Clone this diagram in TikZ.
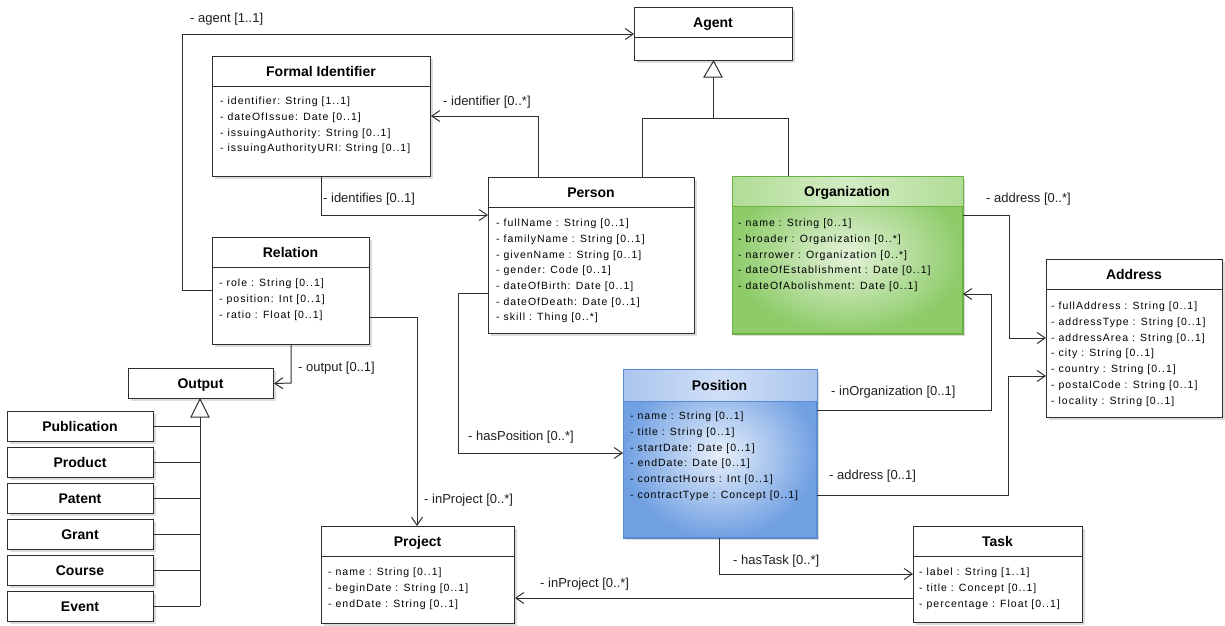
\documentclass[tikz,border=0pt]{standalone}
\usepackage{fontspec}
\setmainfont{Liberation Sans}
\newfontfamily\attrfont[LetterSpace=9.5]{Liberation Sans}
\usetikzlibrary{arrows.meta,shadows,calc}
\definecolor{ln}{HTML}{2E2E2E}
\definecolor{orgIn}{HTML}{E4F3DA}
\definecolor{orgOut}{HTML}{8ECC6A}
\definecolor{orgH}{HTML}{B0DC95}
\definecolor{orgHm}{HTML}{D3ECC4}
\definecolor{orgB}{HTML}{6BAF45}
\definecolor{posIn}{HTML}{E8F0FB}
\definecolor{posOut}{HTML}{71A0E2}
\definecolor{posH}{HTML}{AAC5EE}
\definecolor{posHm}{HTML}{D0DFF6}
\definecolor{posB}{HTML}{5A8AD2}
\tikzset{
  cls/.style={draw=ln, line width=1pt, fill=white, inner sep=0pt, anchor=north west,
    drop shadow={shadow xshift=2.5pt, shadow yshift=-2.5pt, opacity=0.28}},
  ttl/.style={font=\fontsize{14}{16}\selectfont\bfseries, inner sep=0pt, anchor=base, text=black},
  attr/.style={font=\attrfont\fontsize{10.5}{15.7}\selectfont, align=left, anchor=north west, inner sep=0pt, text=black},
  lbl/.style={font=\fontsize{13}{15}\selectfont, anchor=base west, inner sep=0pt, text=black!88},
  assoc/.style={draw=ln, line width=1pt, -{Straight Barb[length=8pt,width=11pt,line width=1pt]}},
  gen/.style={draw=ln, line width=1pt},
  divl/.style={draw=ln, line width=1pt},
}
\begin{document}
\begin{tikzpicture}[x=1pt,y=-1pt]
\useasboundingbox (0,0) rectangle (1225,625);

% ---------- Agent
\node[cls, minimum width=158pt, minimum height=53pt] (agent) at (634,7) {};
\draw[divl] (agent.west |- 0,37) -- (agent.east |- 0,37);
\node[ttl] (agentT) at (713,27) {Agent};

% ---------- Formal Identifier
\node[cls, minimum width=218pt, minimum height=120pt] (fid) at (212,56) {};
\draw[divl] (fid.west |- 0,86) -- (fid.east |- 0,86);
\node[ttl] (fidT) at (321,76) {Formal Identifier};
\node[attr] (fidA) at (220,97) {- identifier: String [1..1]\\- dateOfIssue: Date [0..1]\\- issuingAuthority: String [0..1]\\- issuingAuthorityURI: String [0..1]};

% ---------- Person
\node[cls, minimum width=206pt, minimum height=156pt] (person) at (488,177) {};
\draw[divl] (person.west |- 0,207) -- (person.east |- 0,207);
\node[ttl] (personT) at (591,197) {Person};
\node[attr] (personA) at (496,218.8) {- fullName : String [0..1]\\- familyName : String [0..1]\\- givenName : String [0..1]\\- gender: Code [0..1]\\- dateOfBirth: Date [0..1]\\- dateOfDeath: Date [0..1]\\- skill : Thing [0..*]};

% ---------- Organization
\node[cls, draw=orgB, inner color=orgIn, outer color=orgOut, minimum width=230pt, minimum height=157pt] (org) at (732,176) {};
\shade[left color=orgH, right color=orgH, middle color=orgHm] (org.north west) rectangle (org.east |- 0,206);
\draw[draw=orgB, line width=1pt] (org.north west) rectangle (org.south east);
\draw[draw=orgB, line width=1pt] (org.west |- 0,206) -- (org.east |- 0,206);
\node[ttl] (orgT) at (847,196) {Organization};
\node[attr] (orgA) at (738,218.8) {- name : String [0..1]\\- broader : Organization [0..*]\\- narrower : Organization [0..*]\\- dateOfEstablishment : Date [0..1]\\- dateOfAbolishment: Date [0..1]};

% ---------- Address
\node[cls, minimum width=176pt, minimum height=158pt] (address) at (1046,259) {};
\draw[divl] (address.west |- 0,289) -- (address.east |- 0,289);
\node[ttl] (addressT) at (1134,279) {Address};
\node[attr] (addressA) at (1051,302) {- fullAddress : String [0..1]\\- addressType : String [0..1]\\- addressArea : String [0..1]\\- city : String [0..1]\\- country : String [0..1]\\- postalCode : String [0..1]\\- locality : String [0..1]};

% ---------- Relation
\node[cls, minimum width=157pt, minimum height=107pt] (relation) at (212,237) {};
\draw[divl] (relation.west |- 0,267) -- (relation.east |- 0,267);
\node[ttl] (relationT) at (290.5,257) {Relation};
\node[attr] (relationA) at (219,279) {- role : String [0..1]\\- position: Int [0..1]\\- ratio : Float [0..1]};

% ---------- Output and subclasses
\node[cls, minimum width=145pt, minimum height=30pt] (output) at (128,368) {};
\node[ttl] (outputT) at (200.5,388) {Output};
\node[cls, minimum width=146pt, minimum height=30pt] (pub) at (7,411) {};
\node[ttl] (pubT) at (80,431) {Publication};
\node[cls, minimum width=146pt, minimum height=30pt] (prod) at (7,447) {};
\node[ttl] (prodT) at (80,467) {Product};
\node[cls, minimum width=146pt, minimum height=30pt] (pat) at (7,483) {};
\node[ttl] (patT) at (80,503) {Patent};
\node[cls, minimum width=146pt, minimum height=30pt] (grant) at (7,519) {};
\node[ttl] (grantT) at (80,539) {Grant};
\node[cls, minimum width=146pt, minimum height=30pt] (course) at (7,555) {};
\node[ttl] (courseT) at (80,575) {Course};
\node[cls, minimum width=146pt, minimum height=30pt] (event) at (7,591) {};
\node[ttl] (eventT) at (80,611) {Event};

% ---------- Position
\node[cls, draw=posB, inner color=posIn, outer color=posOut, minimum width=193pt, minimum height=168pt] (position) at (623,369) {};
\shade[left color=posH, right color=posH, middle color=posHm] (position.north west) rectangle (position.east |- 0,401);
\draw[draw=posB, line width=1pt] (position.north west) rectangle (position.south east);
\draw[draw=posB, line width=1pt] (position.west |- 0,401) -- (position.east |- 0,401);
\node[ttl] (positionT) at (719.5,390) {Position};
\node[attr] (positionA) at (630,412) {- name : String [0..1]\\- title : String [0..1]\\- startDate: Date [0..1]\\- endDate: Date [0..1]\\- contractHours : Int [0..1]\\- contractType : Concept [0..1]};

% ---------- Project
\node[cls, minimum width=193pt, minimum height=97pt] (project) at (321,526) {};
\draw[divl] (project.west |- 0,556) -- (project.east |- 0,556);
\node[ttl] (projectT) at (417.5,546) {Project};
\node[attr] (projectA) at (328,568) {- name : String [0..1]\\- beginDate : String [0..1]\\- endDate : String [0..1]};

% ---------- Task
\node[cls, minimum width=169pt, minimum height=96pt] (task) at (913,526) {};
\draw[divl] (task.west |- 0,556) -- (task.east |- 0,556);
\node[ttl] (taskT) at (997.5,546) {Task};
\node[attr] (taskA) at (919,568) {- label : String [1..1]\\- title : Concept [0..1]\\- percentage : Float [0..1]};

% ---------- Generalizations
\draw[gen] (713,77) -- (713,118);
\draw[gen] (person.north -| 642,0) -- (642,118) -- (788,118) -- (org.north -| 788,0);
\draw[gen, fill=white] (agent.south) -- (722,77) -- (704,77) -- cycle;

\draw[gen] (200,417) -- (200,606);
\draw[gen] (pub.east) -- (pub.east -| 200,0);
\draw[gen] (prod.east) -- (prod.east -| 200,0);
\draw[gen] (pat.east) -- (pat.east -| 200,0);
\draw[gen] (grant.east) -- (grant.east -| 200,0);
\draw[gen] (course.east) -- (course.east -| 200,0);
\draw[gen] (event.east) -- (event.east -| 200,0);
\draw[gen, fill=white] (output.south -| 200,0) -- (209,417) -- (191,417) -- cycle;

% ---------- Associations
\draw[assoc] (relation.west |- 0,290) -- (182,290) -- (182,34) -- (agent.west |- 0,34);
\node[lbl] (lAgent) at (190,22.5) {- agent [1..1]};

\draw[assoc] (person.north -| 538,0) -- (538,116) -- (fid.east |- 0,116);
\node[lbl] (lIdentifier) at (443,105.5) {- identifier [0..*]};

\draw[assoc] (fid.south -| 321,0) -- (321,215) -- (person.west |- 0,215);
\node[lbl] (lIdentifies) at (323,202.5) {- identifies [0..1]};

\draw[assoc] (org.east |- 0,215) -- (1009,215) -- (1009,338) -- (address.west |- 0,338);
\node[lbl] (lAddr1) at (986,202.5) {- address [0..*]};

\draw[assoc] (position.east |- 0,410) -- (991,410) -- (991,294) -- (org.east |- 0,294);
\node[lbl] (lInOrg) at (831,395.5) {- inOrganization [0..1]};

\draw[assoc] (position.east |- 0,495) -- (1008,495) -- (1008,376) -- (address.west |- 0,376);
\node[lbl] (lAddr2) at (829,479.5) {- address [0..1]};

\draw[assoc] (person.west |- 0,293) -- (458,293) -- (458,453) -- (position.west |- 0,453);
\node[lbl] (lHasPos) at (468,440.5) {- hasPosition [0..*]};

\draw[assoc] (relation.south -| 291,0) -- (291,383) -- (output.east);
\node[lbl] (lOutput) at (298,371.5) {- output [0..1]};

\draw[assoc] (relation.east |- 0,317) -- (417,317) -- (project.north -| 417,0);
\node[lbl] (lInProj1) at (424,503.5) {- inProject [0..*]};

\draw[assoc] (position.south -| 719,0) -- (719,574) -- (task.west |- 0,574);
\node[lbl] (lHasTask) at (733,564) {- hasTask [0..*]};

\draw[assoc] (task.west |- 0,598) -- (project.east |- 0,598);
\node[lbl] (lInProj2) at (540,587.5) {- inProject [0..*]};
\end{tikzpicture}
\end{document}
